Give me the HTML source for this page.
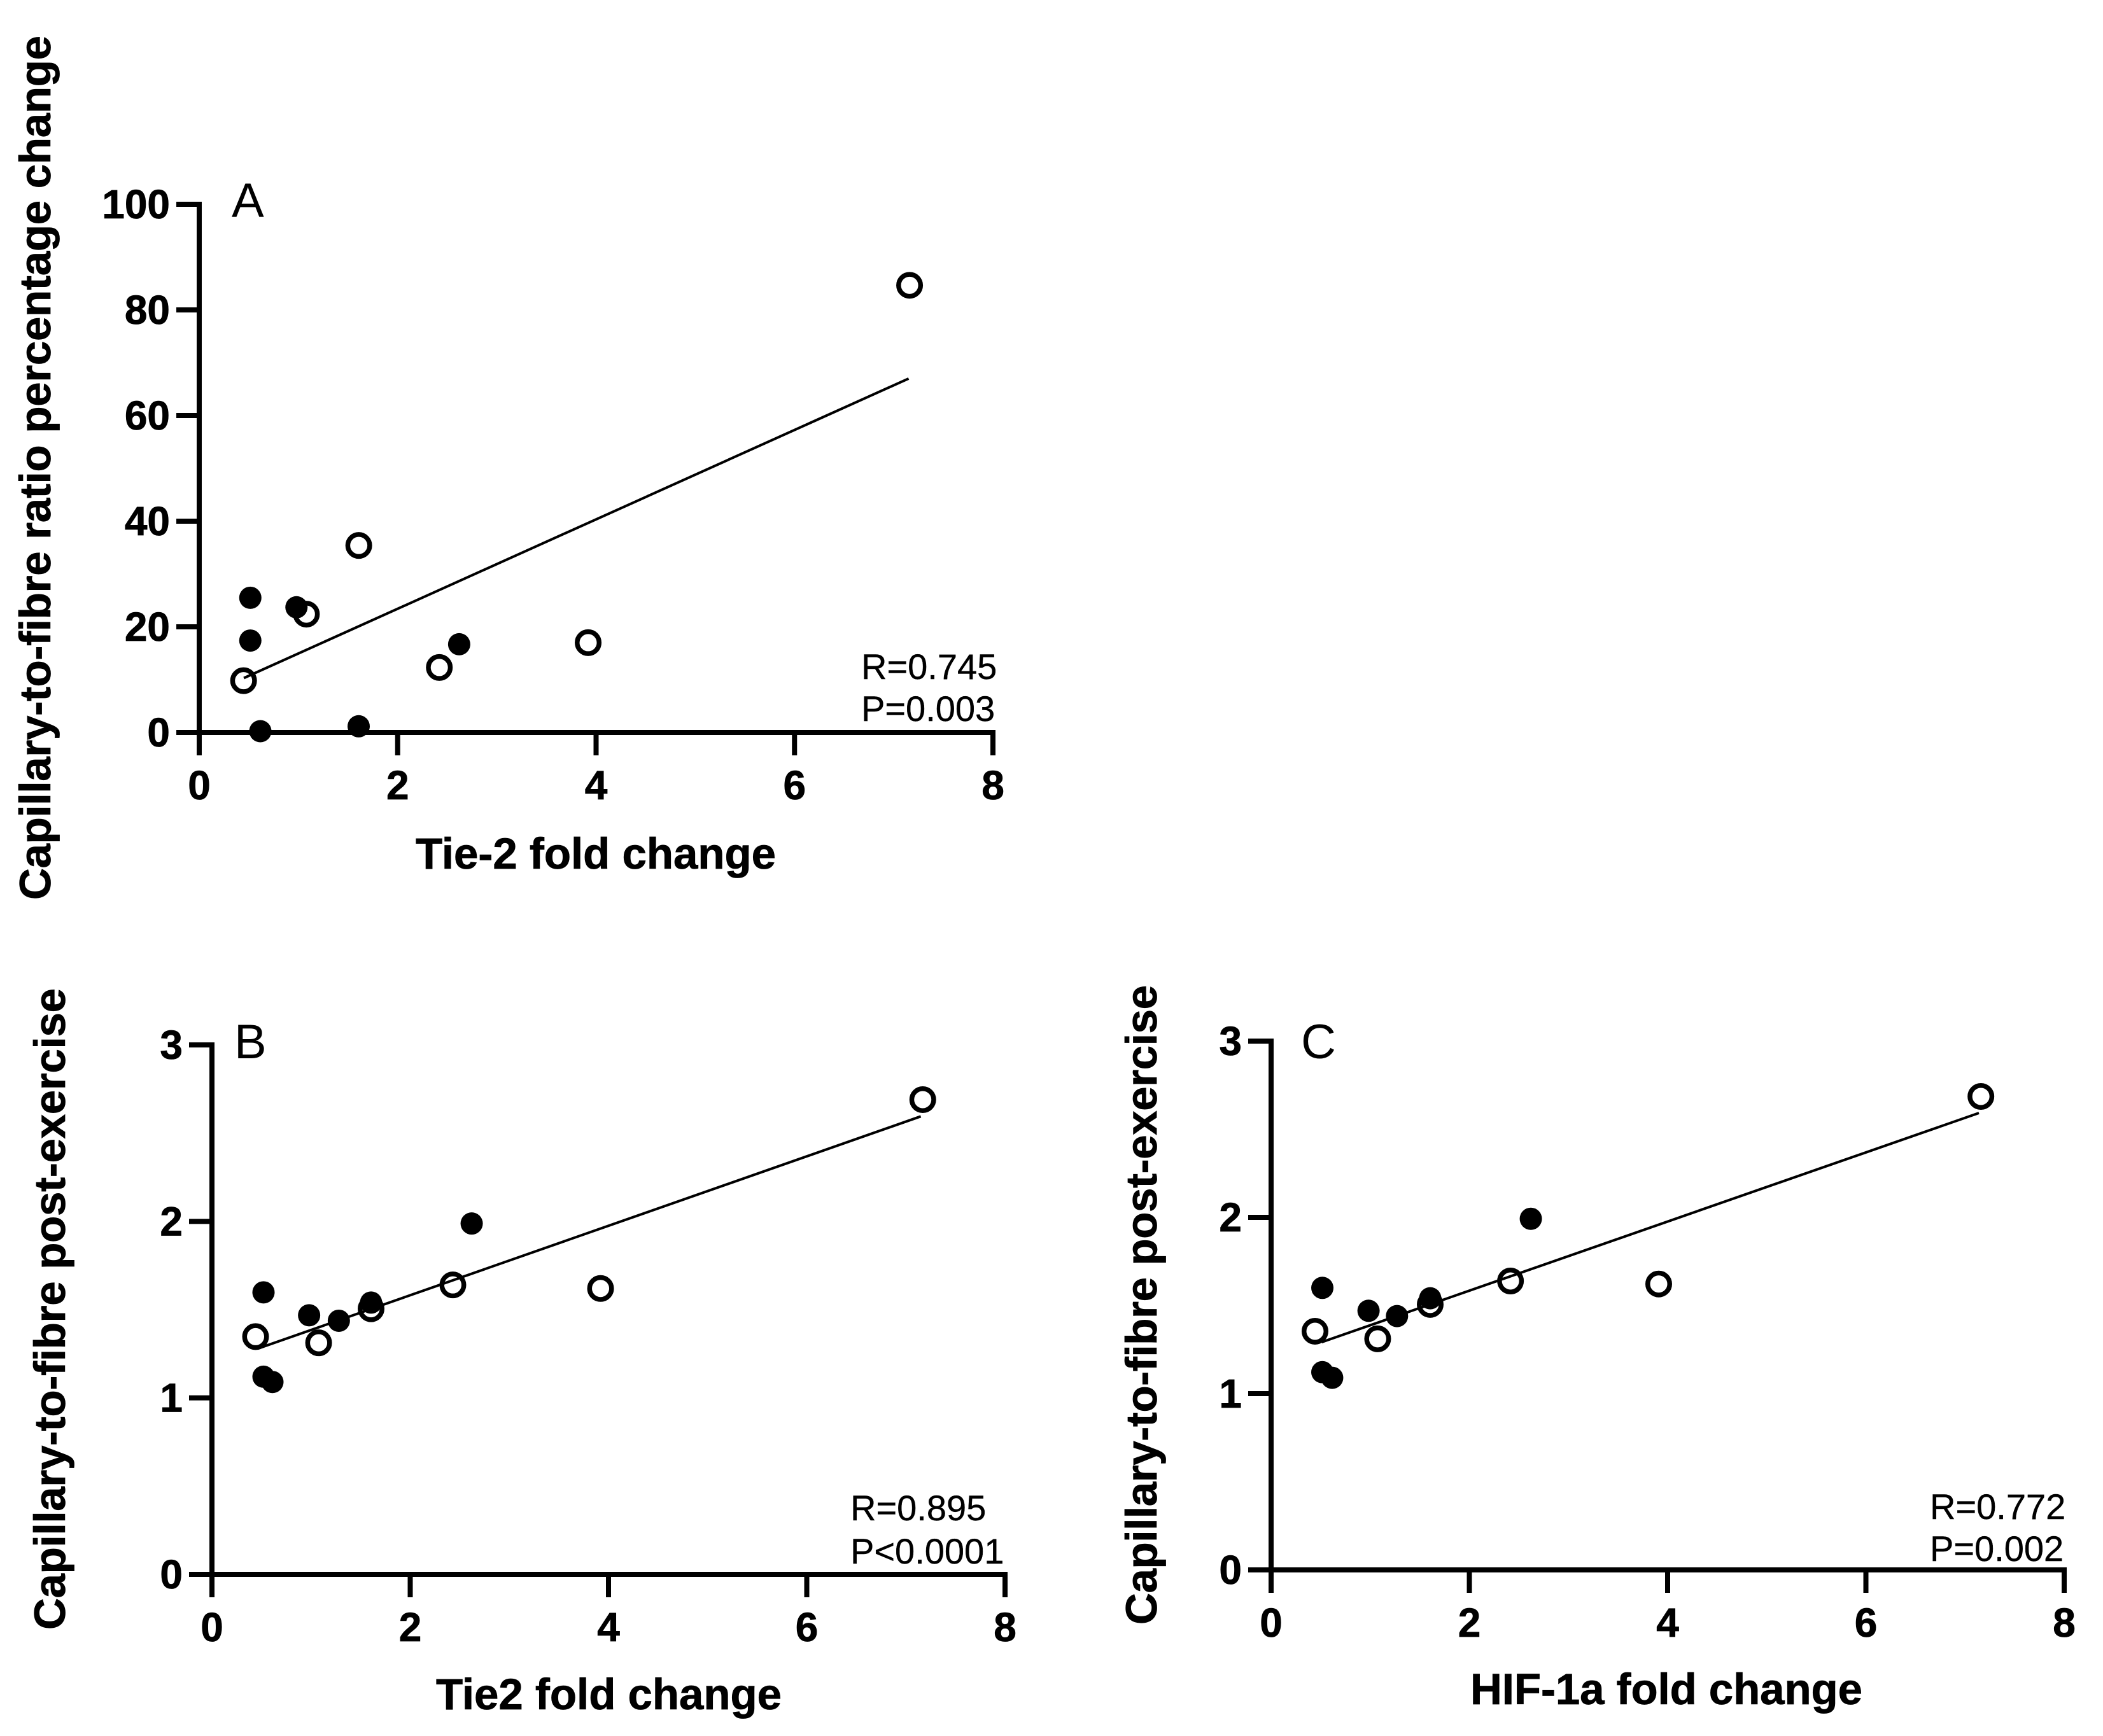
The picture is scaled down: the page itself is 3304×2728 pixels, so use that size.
<!DOCTYPE html>
<html lang="en">
<head>
<meta charset="utf-8">
<title>Capillary-to-fibre correlations</title>
<style>
html,body{margin:0;padding:0;background:#fff}
svg{display:block;font-family:"Liberation Sans",Arial,sans-serif;fill:#000}
.title{font-weight:700;font-size:69px;stroke:#000;stroke-width:.8px}
.stat{font-size:56px;stroke:#000;stroke-width:.4px}
.letter{font-size:76px}
.tick{font-weight:700;font-size:64px;stroke:#000;stroke-width:.8px}
</style>
</head>
<body>
<svg id="chart" width="3304" height="2728" viewBox="0 0 3304 2728" xmlns="http://www.w3.org/2000/svg">
  <rect x="0" y="0" width="3304" height="2728" fill="#fff"/>

  <g id="panel-a"></g>
  <g id="panel-b"></g>
  <g id="panel-c"></g>

  <text class="letter" x="364" y="341">A</text>
  <text class="title" x="653" y="1365" textLength="566">Tie-2 fold change</text>
  <text class="title" transform="translate(79,1414) rotate(-90)" x="0" y="0" textLength="1358">Capillary-to-fibre ratio percentage change</text>
  <text class="stat" x="1353" y="1067">R=0.745</text>
  <text class="stat" x="1353" y="1133">P=0.003</text>

  <text class="letter" x="368" y="1663">B</text>
  <text class="title" x="685" y="2686" textLength="543">Tie2 fold change</text>
  <text class="title" transform="translate(102,2561) rotate(-90)" x="0" y="0" textLength="1008">Capillary-to-fibre post-exercise</text>
  <text class="stat" x="1336" y="2389">R=0.895</text>
  <text class="stat" x="1336" y="2457">P&lt;0.0001</text>

  <text class="letter" x="2044" y="1663">C</text>
  <text class="title" x="2310" y="2678" textLength="616">HIF-1a fold change</text>
  <text class="title" transform="translate(1817,2553) rotate(-90)" x="0" y="0" textLength="1005">Capillary-to-fibre post-exercise</text>
  <text class="stat" x="3032" y="2387">R=0.772</text>
  <text class="stat" x="3032" y="2453">P=0.002</text>
</svg>

<script>
// Shared tick labels
const xTickLabels = [0, 2, 4, 6, 8];
const yTickLabelsA = [0, 20, 40, 60, 80, 100];
const yTickLabelsBC = [0, 1, 2, 3];

// Panel A values
const aOpenX = [0.447, 1.08, 1.608, 2.42, 3.92, 7.16];
const aOpenY = [9.8, 22.4, 35.4, 12.3, 17.0, 84.66];
const aFilledX = [0.515, 0.515, 0.98, 0.616, 1.607, 2.62];
const aFilledY = [25.5, 17.4, 23.7, 0.24, 1.17, 16.7];
const aFitX = [0.45, 7.15];
const aFitY = [10.3, 67.0];

// Panel B values
const bOpenX = [0.44, 1.076, 1.605, 2.43, 3.92, 7.17];
const bOpenY = [1.347, 1.312, 1.505, 1.64, 1.62, 2.69];
const bFilledX = [0.52, 0.98, 1.28, 1.605, 2.62, 0.52, 0.61];
const bFilledY = [1.598, 1.468, 1.437, 1.54, 1.988, 1.12, 1.09];
const bFitX = [0.467, 7.15];
const bFitY = [1.28, 2.595];

// Panel C values
const cOpenX = [0.443, 1.075, 1.605, 2.415, 3.91, 7.16];
const cOpenY = [1.354, 1.311, 1.506, 1.639, 1.622, 2.686];
const cFilledX = [0.517, 0.983, 1.27, 1.605, 2.62, 0.517, 0.616];
const cFilledY = [1.6, 1.47, 1.44, 1.541, 1.992, 1.122, 1.09];
const cFitX = [0.51, 7.14];
const cFitY = [1.292, 2.592];

const SVG_NS = 'http://www.w3.org/2000/svg';

function make(parent, tag, attrs) {
  const el = document.createElementNS(SVG_NS, tag);
  for (const k in attrs) el.setAttribute(k, attrs[k]);
  parent.appendChild(el);
  return el;
}

function drawPanel(id, box, xTicks, yTicks, openX, openY, filledX, filledY, fitX, fitY) {
  const root = document.getElementById(id);
  const xMin = xTicks[0], xMax = xTicks[xTicks.length - 1];
  const yMin = yTicks[0], yMax = yTicks[yTicks.length - 1];
  const sx = v => box.left + (v - xMin) * (box.right - box.left) / (xMax - xMin);
  const sy = v => box.bottom - (v - yMin) * (box.bottom - box.top) / (yMax - yMin);
  const tickLen = 36, axisW = 8;

  const xAxis = make(root, 'line', {x1: sx(xMin) - tickLen, x2: sx(xMax) + axisW / 2, y1: sy(yMin), y2: sy(yMin), stroke: '#000', 'stroke-width': axisW});
  
  

  const yAxis = make(root, 'line', {x1: sx(xMin), x2: sx(xMin), y1: sy(yMax) - axisW / 2, y2: sy(yMin) + tickLen, stroke: '#000', 'stroke-width': axisW});
  
  

  xTicks.forEach(v => {
    const t = make(root, 'line', {x1: sx(v), x2: sx(v), y1: sy(yMin), y2: sy(yMin) + tickLen, stroke: '#000', 'stroke-width': axisW});
    
    
    const l = make(root, 'text', {x: sx(v), y: sy(yMin) + tickLen + 69, 'text-anchor': 'middle', class: 'tick'});
    l.textContent = String(v);
    
    
  });

  yTicks.forEach(v => {
    if (v !== yMin) {
      const t = make(root, 'line', {x1: sx(xMin) - tickLen, x2: sx(xMin), y1: sy(v), y2: sy(v), stroke: '#000', 'stroke-width': axisW});
      
      
    }
    const l = make(root, 'text', {x: sx(xMin) - tickLen - 10, y: sy(v) + 22, 'text-anchor': 'end', class: 'tick'});
    l.textContent = String(v);
    
    
  });

  openX.forEach((v, i) => {
    const c = make(root, 'circle', {cx: sx(v), cy: sy(openY[i]), r: 17.25, fill: '#fff', stroke: '#000', 'stroke-width': 7.5});
    
    
  });

  filledX.forEach((v, i) => {
    const c = make(root, 'circle', {cx: sx(v), cy: sy(filledY[i]), r: 17.5, fill: '#000'});
    
    
  });

  const fit = make(root, 'line', {x1: sx(fitX[0]), y1: sy(fitY[0]), x2: sx(fitX[1]), y2: sy(fitY[1]), stroke: '#000', 'stroke-width': 4});
  
  
}

drawPanel('panel-a', {left: 313, right: 1560, top: 321, bottom: 1151}, xTickLabels, yTickLabelsA, aOpenX, aOpenY, aFilledX, aFilledY, aFitX, aFitY);
drawPanel('panel-b', {left: 333, right: 1579, top: 1642, bottom: 2474}, xTickLabels, yTickLabelsBC, bOpenX, bOpenY, bFilledX, bFilledY, bFitX, bFitY);
drawPanel('panel-c', {left: 1997, right: 3243, top: 1636, bottom: 2467}, xTickLabels, yTickLabelsBC, cOpenX, cOpenY, cFilledX, cFilledY, cFitX, cFitY);
</script>
</body>
</html>
